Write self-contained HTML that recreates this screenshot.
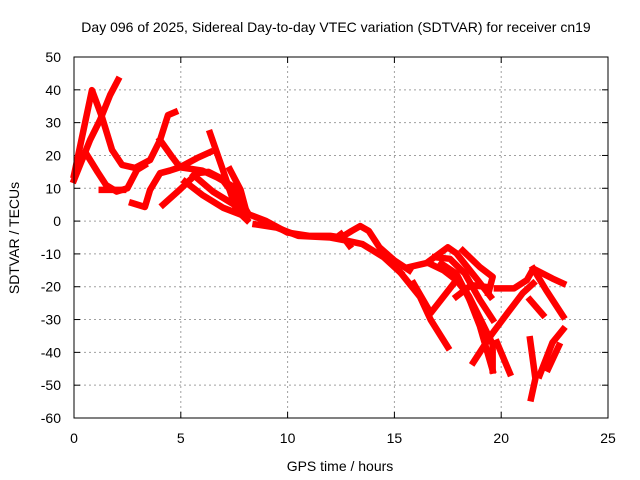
<!DOCTYPE html>
<html><head><meta charset="utf-8"><style>
body{margin:0;background:#fff}
svg{display:block;font-family:"Liberation Sans",sans-serif}
</style></head><body>
<svg id="chart" width="640" height="480" viewBox="0 0 640 480" xmlns="http://www.w3.org/2000/svg">
<rect width="640" height="480" fill="#fff"/>
<text x="336" y="32" font-size="14" text-anchor="middle">Day 096 of 2025, Sidereal Day-to-day VTEC variation (SDTVAR) for receiver cn19</text>
<g id="grid"></g>
<g id="ticks"></g>
<g id="series"></g>
<rect x="74" y="57" width="534" height="361" fill="none" stroke="#000" stroke-width="1"/>
<text x="340" y="471" font-size="14" text-anchor="middle">GPS time / hours</text>
<text x="19" y="238" font-size="14" text-anchor="middle" transform="rotate(-90 19 238)">SDTVAR / TECUs</text>
</svg>
<script>
const xTicks=[0,5,10,15,20,25];
const yTicks=[50,40,30,20,10,0,-10,-20,-30,-40,-50,-60];
const sA=[[0,14],[0.84,39.9],[1.31,31.7],[1.78,21.7],[2.25,17.1],[2.86,16.2],[3.56,18.6],[4.03,24.7],[4.4,32.3],[4.73,33.2]];
const sB=[[0,12.5],[0.75,24.7],[1.22,30.8],[1.69,38.4],[2.06,43]];
const sC=[[0.15,16.5],[0.56,20.7],[1.1,15],[1.5,11],[2.0,9],[2.5,10],[2.95,15.6],[3.3,17]];
const sC2=[[1.3,9.5],[2.3,9.5]];
const sE=[[2.72,5.5],[3.32,4.3],[3.56,9.5],[4.03,14.6],[4.49,15.4],[4.96,16.4],[5.76,19.2],[6.37,21]];
const sD=[[4.03,24.7],[4.6,19.5],[4.96,16.4],[6.0,15.4],[6.7,13.3],[7.4,10.7],[7.9,5.2],[8.2,1.8]];
const sE2=[[4.17,5],[4.96,9.6],[5.76,14.6],[6.3,15],[6.9,13],[7.6,7],[8.1,2]];
const sF=[[6.37,26.8],[6.97,15.6],[7.6,3.4],[8.1,0.3]];
const sG=[[7.3,15.7],[7.8,9.5],[8.0,4.6]];
const sH=[[5.2,12],[6,8],[7,4],[8,1.5]];
const sH2=[[5.6,14],[6.5,9],[7.5,5],[8.2,2]];
const sM=[[8.2,2],[9,0],[10,-3.5],[11,-4.5],[12,-4.5],[12.5,-5],[13,-3],[13.4,-1.5],[13.8,-3],[14.3,-8],[15,-12],[15.7,-15]];
const sM2=[[8.5,-1],[9.5,-2],[10.5,-4.5],[12,-5],[12.8,-6],[13.5,-7],[14.5,-11],[15.3,-15.8]];
const sM3=[[12.5,-4],[12.9,-7.5]];
const sR1=[[15.3,-15.8],[16.2,-23.1],[16.7,-30.1],[17.5,-38.4]];
const sR2=[[15.7,-14],[16.5,-12.8],[17.5,-8],[17.9,-9.8],[18.9,-18],[19.5,-23]];
const sR3=[[16.6,-12.8],[17.3,-15],[18.1,-19],[18.5,-23],[19,-29.5],[19.6,-37.5],[19.6,-45.5]];
const sR4=[[15.9,-19],[16.7,-28],[17.3,-23],[17.9,-18]];
const sR5=[[17.9,-18],[18.4,-22],[19,-32],[19.6,-45.5]];
const sR6=[[18.2,-9],[19,-14],[19.6,-17],[19.4,-22]];
const sR7=[[18.7,-43],[19.5,-35],[20.3,-28],[21.0,-22],[21.5,-19]];
const sR8=[[19.8,-37],[20.4,-46.3]];
const sR9=[[19.8,-20.5],[20.6,-20.5],[21.2,-18],[21.5,-14.5],[22.4,-17.5],[22.9,-19]];
const sR10=[[21.35,-24],[21.95,-28.5]];
const sR11=[[21.5,-14.5],[22.1,-21],[22.9,-29]];
const sR12=[[21.35,-36],[21.6,-48],[21.4,-54]];
const sR13=[[21.8,-47],[22.4,-37],[22.9,-33]];
const sR14=[[22.2,-45],[22.7,-38]];
const sR15=[[16.9,-11],[17.6,-11.5],[18.3,-16],[19.0,-24],[19.6,-30]];
const sR16=[[17.2,-13],[17.9,-16],[18.6,-25],[19.2,-35]];
const sR17=[[17.9,-23],[18.6,-19.5],[19.2,-20]];
const allSeries=[sA,sB,sC,sC2,sE,sD,sE2,sF,sG,sH,sH2,sM,sM2,sM3,sR1,sR2,sR3,sR4,sR5,sR6,sR7,sR8,sR9,sR10,sR11,sR12,sR13,sR14,sR15,sR16,sR17];

const X0=74,X1=608,Y0=418,Y1=57,xMin=0,xMax=25,yMin=-60,yMax=50;
const xs=v=>X0+(v-xMin)/(xMax-xMin)*(X1-X0);
const ys=v=>Y0-(v-yMin)/(yMax-yMin)*(Y0-Y1);
const NS="http://www.w3.org/2000/svg";
const grid=document.getElementById('grid'),ticks=document.getElementById('ticks'),ser=document.getElementById('series');
function mk(tag,at,parent){const e=document.createElementNS(NS,tag);for(const k in at)e.setAttribute(k,at[k]);parent.appendChild(e);return e;}
xTicks.forEach(t=>{
  const x=xs(t);
  if(t>xMin&&t<xMax){const g=mk('line',{x1:x,y1:Y0,x2:x,y2:Y1,stroke:'#a0a0a0','stroke-dasharray':'2,3'},grid);
  
  }
  const a=mk('line',{x1:x,y1:Y0,x2:x,y2:Y0-6,stroke:'#000'},ticks);
  
  
  const b=mk('line',{x1:x,y1:Y1,x2:x,y2:Y1+6,stroke:'#000'},ticks);
  
  
  const l=mk('text',{x:x,y:443,'font-size':14,'text-anchor':'middle'},ticks);l.textContent=t;
  
  
});
yTicks.forEach(t=>{
  const y=ys(t);
  if(t>yMin&&t<yMax){const g=mk('line',{x1:X0,y1:y,x2:X1,y2:y,stroke:'#a0a0a0','stroke-dasharray':'2,3'},grid);
  
  }
  const a=mk('line',{x1:X0,y1:y,x2:X0+6,y2:y,stroke:'#000'},ticks);
  
  
  const b=mk('line',{x1:X1,y1:y,x2:X1-6,y2:y,stroke:'#000'},ticks);
  
  
  const l=mk('text',{x:61,y:y+5,'font-size':14,'text-anchor':'end'},ticks);l.textContent=t;
  
  
});
allSeries.forEach(s=>{
  const p=mk('polyline',{points:s.map(d=>xs(d[0])+','+ys(d[1])).join(' '),fill:'none',stroke:'#f00','stroke-width':6.5,'stroke-linejoin':'round','stroke-linecap':'square'},ser);
  
  
});
</script>
</body></html>
